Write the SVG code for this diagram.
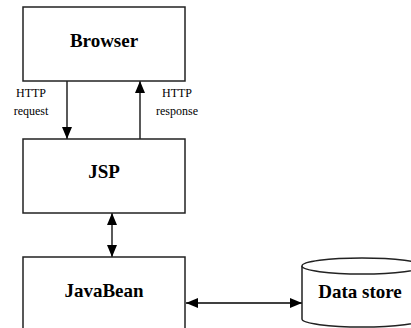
<svg xmlns="http://www.w3.org/2000/svg" width="411" height="328" viewBox="0 0 411 328">
<style>
.box{fill:#fff;stroke:#222;stroke-width:1.5}
.t{font-family:"Liberation Serif",serif;font-weight:bold;font-size:19px;fill:#000;text-anchor:middle}
.s{font-family:"Liberation Serif",serif;font-size:12px;fill:#000;text-anchor:middle}
.c{stroke:#000;stroke-width:1.3;fill:none}
</style>
<defs>
<marker id="ah" viewBox="0 0 12 10" refX="12" refY="5" markerWidth="12" markerHeight="10" markerUnits="userSpaceOnUse" orient="auto-start-reverse">
<path d="M0,0 L12,5 L0,10 Z" fill="#000"/>
</marker>
</defs>
<rect width="411" height="328" fill="#fff"/>
<g id="connectors">
<line class="c" x1="67" y1="81" x2="67" y2="139" marker-end="url(#ah)"/>
<line class="c" x1="140" y1="139" x2="140" y2="81" marker-end="url(#ah)"/>
<line class="c" x1="112" y1="213" x2="112" y2="257" marker-start="url(#ah)" marker-end="url(#ah)"/>
<line class="c" x1="186" y1="303" x2="302" y2="303" marker-start="url(#ah)" marker-end="url(#ah)"/>
<text class="s" x="31" y="97">HTTP</text>
<text class="s" x="31" y="115">request</text>
<text class="s" x="177" y="97">HTTP</text>
<text class="s" x="177" y="115">response</text>
</g>
<g id="browser">
<rect class="box" x="23" y="7" width="162" height="74"/>
<text class="t" x="104" y="47">Browser</text>
</g>
<g id="jsp">
<rect class="box" x="23" y="139" width="162" height="74"/>
<text class="t" x="104" y="178">JSP</text>
</g>
<g id="javabean">
<rect class="box" x="23" y="257" width="162" height="80"/>
<text class="t" x="104" y="297">JavaBean</text>
</g>
<g id="datastore">
<path class="box" d="M302,266 L302,319 A60,8 0 0 0 422,319 L422,266"/>
<ellipse class="box" cx="362" cy="266" rx="60" ry="8"/>
<text class="t" x="360" y="298">Data store</text>
</g>
</svg>
